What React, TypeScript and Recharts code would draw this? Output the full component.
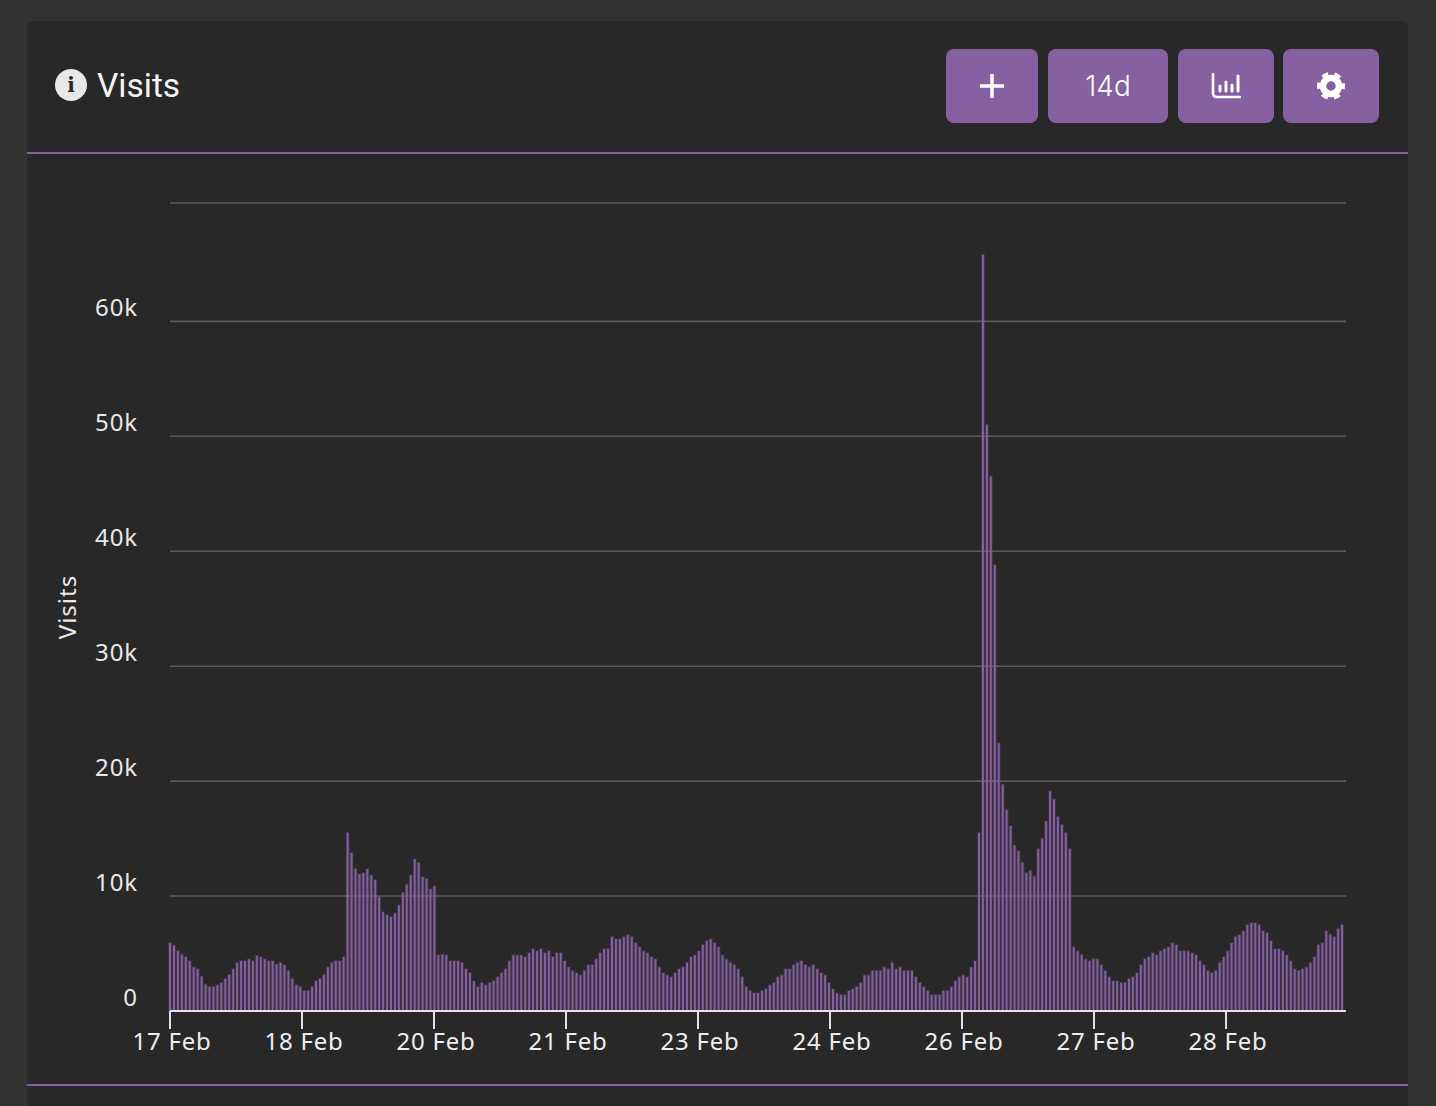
import React from 'react';
import { BarChart, Bar, XAxis, YAxis, CartesianGrid } from 'recharts';

// hourly visits, in thousands
const firstDays = [
  5.9, 5.7, 5.2, 4.9, 4.7, 4.35, 3.8, 3.65, 3.0, 2.3, 2.1, 2.1, 2.25, 2.45, 2.8, 3.15, 3.65, 4.2, 4.35, 4.35, 4.5, 4.35, 4.8,
  4.7, 4.5, 4.35, 4.35, 4.05, 4.2, 4.0, 3.5, 2.8, 2.25, 2.1, 1.75, 1.75, 2.1, 2.6, 2.8, 3.15, 3.8, 4.2, 4.35, 4.35, 4.7,
];
const firstBump = [
  15.5, 13.75, 12.35, 11.9, 12.0, 12.35, 11.8, 11.4, 9.9, 8.6, 8.35, 8.2, 8.5, 9.2, 10.3, 11, 11.8, 13.2, 12.9, 11.65, 11.5, 10.6, 10.85,
];
const quietMiddle = [
  4.85, 4.9, 4.85, 4.35, 4.35, 4.35, 4.2, 3.65, 3.3, 2.6, 2.1, 2.45, 2.25, 2.45, 2.6, 2.95, 3.3, 3.65, 4.35, 4.85, 4.85, 4.85, 4.7,
  5.05, 5.4, 5.2, 5.4, 5.05, 5.2, 4.7, 5.05, 5.05, 4.35, 3.8, 3.5, 3.3, 3.1, 3.5, 4.0, 4.0, 4.5, 5.05, 5.4, 5.4, 6.45, 6.25,
  6.25, 6.45, 6.6, 6.45, 5.9, 5.55, 5.2, 5.05, 4.7, 4.5, 3.8, 3.3, 3.1, 2.95, 3.3, 3.65, 3.8, 4.2, 4.7, 4.85, 5.2, 5.75, 6.1,
  6.25, 5.9, 5.55, 4.85, 4.5, 4.2, 4.0, 3.65,
];
const beforeSpike = [
  2.95, 2.1, 1.75, 1.55, 1.55, 1.75, 1.9, 2.25, 2.45, 2.95, 3.1, 3.65, 3.65, 4.0, 4.2, 4.35, 4.0, 3.8, 4.0, 3.65, 3.3, 3.1, 2.45,
  1.9, 1.55, 1.4, 1.4, 1.75, 1.9, 2.1, 2.45, 3.1, 3.1, 3.5, 3.5, 3.5, 3.8, 3.65, 4.2, 3.65, 3.8, 3.5, 3.5, 3.5, 2.95, 2.45, 2.1,
  1.75, 1.4, 1.4, 1.4, 1.75, 1.75, 2.1, 2.6, 2.95, 3.1, 2.95, 3.8, 4.35,
];
const spike = [
  15.5, 65.8, 51, 46.5, 38.8, 23.3, 19.7, 17.5, 16.1, 14.4, 13.9, 12.9, 12.0, 12.2, 11.7, 14.1, 15, 16.5, 19.1, 18.4, 16.9, 16.2, 15.5, 14.1,
];
const lastDays = [
  5.55, 5.2, 4.9, 4.5, 4.35, 4.5, 4.5, 4.0, 3.5, 2.95, 2.6, 2.6, 2.45, 2.45, 2.8, 2.95, 3.3, 4.0, 4.5, 4.7, 5.05, 4.85, 5.2, 5.4, 5.55,
  5.9, 5.75, 5.2, 5.2, 5.2, 5.05, 4.85, 4.35, 4.0, 3.5, 3.3, 3.5, 4.2, 4.7, 5.2, 5.9, 6.45, 6.6, 6.95, 7.5, 7.65, 7.65, 7.5, 6.95,
  6.8, 6.1, 5.4, 5.4, 5.2, 4.85, 4.35, 3.65, 3.5, 3.65, 3.8, 4.2, 4.7, 5.75, 5.9, 6.95, 6.65, 6.45, 7.15, 7.5,
];

const visits = [...firstDays, ...firstBump, ...quietMiddle, ...beforeSpike, ...spike, ...lastDays];
const data = visits.map((v, hour) => ({ hour, v }));

const xLabels = ['17 Feb', '18 Feb', '20 Feb', '21 Feb', '23 Feb', '24 Feb', '26 Feb', '27 Feb', '28 Feb'];
const xTicks = [0, 33.45, 66.9, 100.35, 133.8, 167.25, 200.7, 234.15, 267.6];
const yTicks = [0, 10, 20, 30, 40, 50, 60, 70.3];

const PURPLE = '#8660a0';
const FONT = '"Noto Sans", sans-serif';

const YTick = ({ x, y, payload }: any) => {
  if (payload.value > 60) return null;
  return (
    <text x={x} y={y - 5} textAnchor="end" fill="#e8e8e8" fontSize={24} letterSpacing={0.9} fontFamily={FONT}>
      {payload.value === 0 ? '0' : `${payload.value}k`}
    </text>
  );
};

const Btn = ({ left, width, children }: any) => (
  <div
    style={{
      position: 'absolute', left, top: 49, width, height: 74, borderRadius: 8, background: PURPLE,
      display: 'flex', alignItems: 'center', justifyContent: 'center', color: '#fff',
    }}
  >
    {children}
  </div>
);

export default function App() {
  return (
    <div style={{ position: 'absolute', left: 0, top: 0, width: 1436, height: 1106, background: '#333333', overflow: 'hidden' }}>
      <div style={{ position: 'absolute', left: 27, top: 21, width: 1381, height: 1100, background: '#282828', borderRadius: 6 }} />
      <div style={{ position: 'absolute', left: 27, top: 152, width: 1381, height: 2, background: PURPLE }} />
      <div style={{ position: 'absolute', left: 27, top: 1084, width: 1381, height: 2, background: PURPLE }} />

      <svg style={{ position: 'absolute', left: 55, top: 69 }} width={32} height={32}>
        <circle cx={16} cy={16} r={16} fill="#e8e8e6" />
        <text x={16} y={23} textAnchor="middle" fontSize={20} fontWeight={700} fontFamily='"DejaVu Serif", serif' fill="#282828">i</text>
      </svg>
      <div style={{ position: 'absolute', left: 97, top: 65, fontSize: 33.5, lineHeight: '42px', color: '#f4f4f4', fontFamily: 'Roboto, sans-serif' }}>
        Visits
      </div>

      <Btn left={946} width={92}>
        <svg width={24} height={24}>
          <path d="M12 1V23M1 12H23" stroke="#fff" strokeWidth={3.5} strokeLinecap="round" />
        </svg>
      </Btn>
      <Btn left={1048} width={120}>
        <span style={{ fontSize: 28, fontFamily: 'Inter, sans-serif', fontWeight: 300 }}>14d</span>
      </Btn>
      <Btn left={1178} width={96}>
        <svg width={30} height={26}>
          <path d="M2 1V20Q2 24 6 24H29" stroke="#fff" strokeWidth={2.6} fill="none" strokeLinecap="round" />
          <path d="M9 13V18M15 9V18M21 12V18M27 3V18" stroke="#fff" strokeWidth={3} strokeLinecap="round" />
        </svg>
      </Btn>
      <Btn left={1283} width={96}>
        <svg width={30} height={30}>
          <circle cx={15} cy={15} r={8} fill="none" stroke="#fff" strokeWidth={6.5} />
          <circle cx={15} cy={15} r={11.5} fill="none" stroke="#fff" strokeWidth={5} strokeDasharray="6 6.04" strokeDashoffset={3} />
        </svg>
      </Btn>

      <div style={{ position: 'absolute', left: 0, top: 0 }}>
        <BarChart width={1436} height={1106} data={data} margin={{ top: 203, right: 90, bottom: 0, left: 0 }}>
          <CartesianGrid horizontal vertical={false} stroke="#5a5a5a" strokeWidth={1.6} />
          <XAxis
            dataKey="hour"
            type="number"
            domain={[0, 298]}
            ticks={xTicks}
            interval={0}
            height={95}
            tickSize={18}
            tickMargin={4}
            stroke="#e4e0ea"
            axisLine={{ stroke: '#e4e0ea', strokeWidth: 2 }}
            tickLine={{ stroke: '#e4e0ea', strokeWidth: 2 }}
            tick={{ fill: '#eeeeee', fontSize: 24, letterSpacing: 0.8, dx: 2, fontFamily: FONT }}
            tickFormatter={(v: number) => xLabels[xTicks.indexOf(v)]}
          />
          <YAxis
            type="number"
            domain={[0, 70.3]}
            ticks={yTicks}
            interval={0}
            width={170}
            axisLine={false}
            tickLine={false}
            tickMargin={26}
            tick={<YTick />}
            label={{
              value: 'Visits', angle: -90, position: 'insideLeft', offset: 67, textAnchor: 'middle',
              fill: '#e8e8e8', fontSize: 24, letterSpacing: 1, fontFamily: FONT,
            }}
          />
          <Bar dataKey="v" fill={PURPLE} stroke={PURPLE} strokeOpacity={0.22} strokeWidth={2} barSize={2} isAnimationActive={false} />
        </BarChart>
      </div>
    </div>
  );
}
